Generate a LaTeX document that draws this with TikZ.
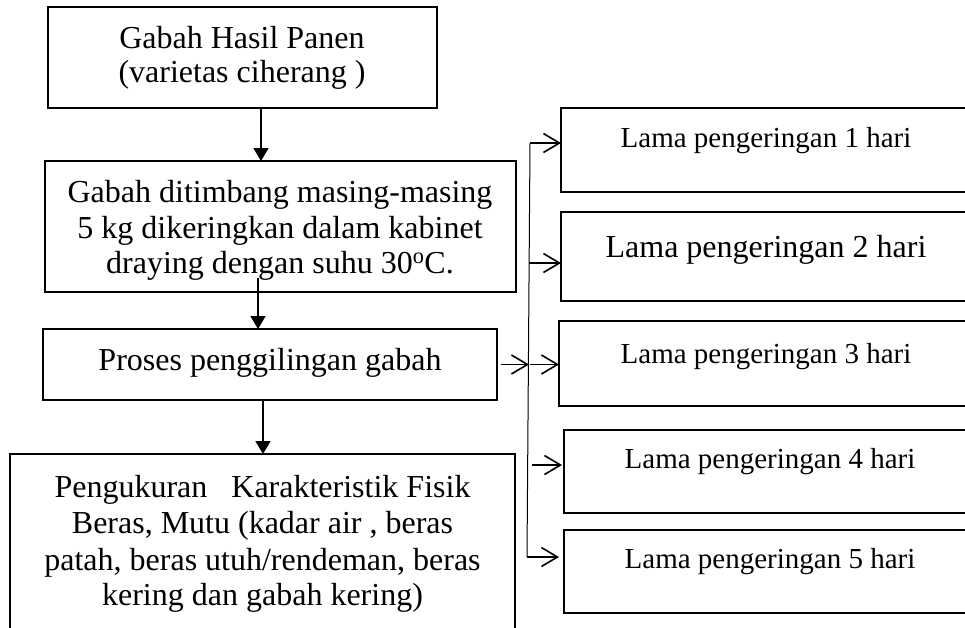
\documentclass[tikz,border=0pt]{standalone}
\usepackage{fontspec}
\setmainfont{Liberation Serif}
\usetikzlibrary{arrows.meta}
\begin{document}
\begin{tikzpicture}[x=1pt,y=-1pt,
  box/.style={draw=black, line width=1.6pt, inner sep=0pt, outer sep=0pt, fill=none},
  bigtxt/.style={anchor=base, inner sep=0pt, font=\fontsize{32}{36}\selectfont},
  smalltxt/.style={anchor=base, inner sep=0pt, font=\fontsize{29}{33}\selectfont},
  downarr/.style={line width=1.7pt, -{Triangle[length=13pt,width=15pt]}},
  sidearr/.style={line width=1.6pt, -{Straight Barb[length=16pt,width=19pt,line width=1.6pt]}},
  branch/.style={line width=1pt}]
\useasboundingbox (0,0) rectangle (965,627);
\begin{scope}
\clip (0,0) rectangle (965,627);
% left column boxes
\node[box, minimum width=389pt, minimum height=101pt] (b1) at (242.5,57.5) {};
\node[box, minimum width=471pt, minimum height=131pt] (b2) at (280.5,226.5) {};
\node[box, minimum width=454pt, minimum height=71pt] (b3) at (270,364.5) {};
\node[box, minimum width=505pt, minimum height=196pt] (b4) at (262.5,552) {};
% right column boxes
\node[box, minimum width=429pt, minimum height=84pt] (r1) at (775.5,150) {};
\node[box, minimum width=429pt, minimum height=89pt] (r2) at (775.5,256.5) {};
\node[box, minimum width=431pt, minimum height=85pt] (r3) at (774.5,363.5) {};
\node[box, minimum width=426pt, minimum height=83pt] (r4) at (777,471.5) {};
\node[box, minimum width=426pt, minimum height=83pt] (r5) at (777,571.5) {};
% texts
\node[bigtxt] (t1a) at (242,48) {Gabah Hasil Panen};
\node[bigtxt] (t1b) at (242,82) {(varietas ciherang )};
\node[bigtxt] (t2a) at (280,202) {Gabah ditimbang masing-masing};
\node[bigtxt] (t2b) at (280,238) {5 kg dikeringkan dalam kabinet};
\node[bigtxt] (t2c) at (280,273) {draying dengan suhu 30\textsuperscript{o}C.};
\node[bigtxt] (t3) at (270,370) {Proses penggilingan gabah};
\node[bigtxt] (t4a) at (262.5,497) {Pengukuran\ \ \ Karakteristik Fisik};
\node[bigtxt] (t4b) at (262.5,533) {Beras, Mutu (kadar air , beras};
\node[bigtxt] (t4c) at (262.5,570) {patah, beras utuh/rendeman, beras};
\node[bigtxt] (t4d) at (262.5,605) {kering dan gabah kering)};
\node[smalltxt] (tr1) at (766,147) {Lama pengeringan 1 hari};
\node[bigtxt] (tr2) at (766,257) {Lama pengeringan 2 hari};
\node[smalltxt] (tr3) at (766,363) {Lama pengeringan 3 hari};
\node[smalltxt] (tr4) at (770,468) {Lama pengeringan 4 hari};
\node[smalltxt] (tr5) at (770,568) {Lama pengeringan 5 hari};
% vertical flow arrows
\coordinate (c1) at (261,0);
\coordinate (c2) at (258,0);
\coordinate (c3) at (263,0);
\draw[downarr] (b1.south -| c1) -- (b2.north -| c1);
\draw[downarr] ([yshift=14pt]b2.south -| c2) -- (b3.north -| c2);
\draw[downarr] (b3.south -| c3) -- (b4.north -| c3);
% branch line
\coordinate (vt) at (530,143);
\coordinate (j2) at (529,263);
\coordinate (j3) at (529,364.5);
\coordinate (j4) at (532,465);
\coordinate (vb) at (527,557);
\draw[branch] (vt) -- (vb);
\draw[sidearr] (vt) -- (vt -| r1.west);
\draw[sidearr] (j2) -- (j2 -| r2.west);
\draw[sidearr] ([xshift=4pt]b3.east) -- (j3);
\draw[sidearr] ([xshift=1pt]j3) -- (j3 -| r3.west);
\draw[sidearr, shorten >=2pt] (j4) -- (j4 -| r4.west);
\draw[sidearr, shorten >=5pt] (vb) -- (vb -| r5.west);
\end{scope}
\end{tikzpicture}
\end{document}
